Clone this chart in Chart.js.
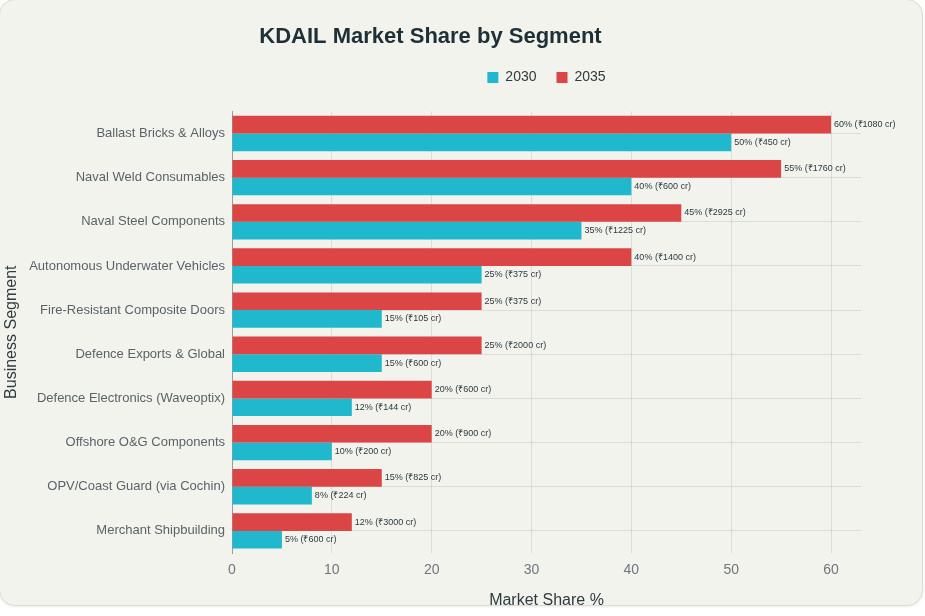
<!DOCTYPE html>
<html>
<head>
<meta charset="utf-8">
<script src="https://cdn.jsdelivr.net/npm/chart.js@4"></script>
<style>
  html, body { margin: 0; padding: 0; background: #ffffff; }
  #card {
    position: absolute; left: -1px; top: -1px; width: 922px; height: 605px;
    background: #f3f3ee; border: 1px solid #dcdcd6; border-radius: 16px;
    box-shadow: 0 1px 3px rgba(0,0,0,0.08);
  }
  #wrap { position: absolute; left: 0; top: 0; width: 925px; height: 616px; }
</style>
</head>
<body>
<div id="card"></div>
<div id="wrap"><canvas id="grafico" width="925" height="616"></canvas></div>
<script>
const segmentos = [
  'Ballast Bricks & Alloys',
  'Naval Weld Consumables',
  'Naval Steel Components',
  'Autonomous Underwater Vehicles',
  'Fire-Resistant Composite Doors',
  'Defence Exports & Global',
  'Defence Electronics (Waveoptix)',
  'Offshore O&G Components',
  'OPV/Coast Guard (via Cochin)',
  'Merchant Shipbuilding'
];
const share2030 = [50, 40, 35, 25, 15, 15, 12, 10, 8, 5];
const share2035 = [60, 55, 45, 40, 25, 25, 20, 20, 15, 12];
const receita2030 = [450, 600, 1225, 375, 105, 600, 144, 200, 224, 600];
const receita2035 = [1080, 1760, 2925, 1400, 375, 2000, 600, 900, 825, 3000];
const xTicks = [0, 10, 20, 30, 40, 50, 60];

const receitas = [receita2035, receita2030];

// rótulos no fim de cada barra
const rotulosPlugin = {
  id: 'rotulos',
  afterDatasetsDraw(chart) {
    const ctx = chart.ctx;
    ctx.save();
    ctx.font = '9px "Liberation Sans", Arial, sans-serif';
    ctx.fillStyle = '#2b3a3f';
    ctx.textAlign = 'left';
    ctx.textBaseline = 'middle';
    chart.data.datasets.forEach((ds, i) => {
      chart.getDatasetMeta(i).data.forEach((bar, j) => {
        ctx.fillText(ds.data[j] + '% (\u20B9' + receitas[i][j] + ' cr)', bar.x + 3, bar.y);
      });
    });
    ctx.restore();
  }
};

// espaço extra abaixo da legenda
const legendaPlugin = {
  id: 'legendaEspaco',
  beforeInit(chart) {
    const fit = chart.legend.fit;
    chart.legend.fit = function () {
      fit.bind(chart.legend)();
      this.height += 17;
    };
  }
};

const fonte = '"Liberation Sans", Arial, sans-serif';

new Chart(document.getElementById('grafico'), {
  type: 'bar',
  data: {
    labels: segmentos,
    datasets: [
      { label: '2035', data: share2035, backgroundColor: '#db4545', borderWidth: 0 },
      { label: '2030', data: share2030, backgroundColor: '#1fb8cd', borderWidth: 0 }
    ]
  },
  options: {
    indexAxis: 'y',
    responsive: false,
    animation: false,
    layout: { padding: { left: 0, right: 64, top: 0, bottom: 4 } },
    datasets: { bar: { categoryPercentage: 0.8, barPercentage: 1.0 } },
    plugins: {
      title: {
        display: true,
        text: 'KDAIL Market Share by Segment',
        color: '#1e2f36',
        font: { family: fonte, size: 22, weight: 'bold' },
        padding: { top: 24, bottom: 0 }
      },
      legend: {
        display: true,
        position: 'top',
        fullSize: false,
        reverse: true,
        labels: {
          boxWidth: 11, boxHeight: 11,
          color: '#2f3b3f',
          font: { family: fonte, size: 14 },
          padding: 20
        }
      },
      tooltip: { enabled: false }
    },
    scales: {
      x: {
        min: 0, max: 63,
        afterBuildTicks: (axis) => { axis.ticks = xTicks.map(v => ({ value: v })); },
        afterFit: (s) => { s.height = 59; },
        grid: { color: 'rgba(0,0,0,0.09)', drawTicks: false },
        border: { display: false },
        ticks: { color: '#6f767c', font: { family: fonte, size: 14 }, padding: 9 },
        title: {
          display: true, text: 'Market Share %', color: '#2f3b3f',
          font: { family: fonte, size: 16 }, padding: { top: 0, bottom: 2 }
        }
      },
      y: {
        afterFit: (s) => { s.width = 232; },
        grid: { color: 'rgba(0,0,0,0.09)', offset: false, drawTicks: false },
        border: { display: true, color: '#9a9a9a' },
        ticks: { color: '#5a6369', font: { family: fonte, size: 13 }, padding: 7 },
        title: {
          display: true, text: 'Business Segment', color: '#2f3b3f',
          font: { family: fonte, size: 16 }, padding: { top: 2, bottom: 0 }
        }
      }
    }
  },
  plugins: [rotulosPlugin, legendaPlugin]
});
</script>
</body>
</html>
